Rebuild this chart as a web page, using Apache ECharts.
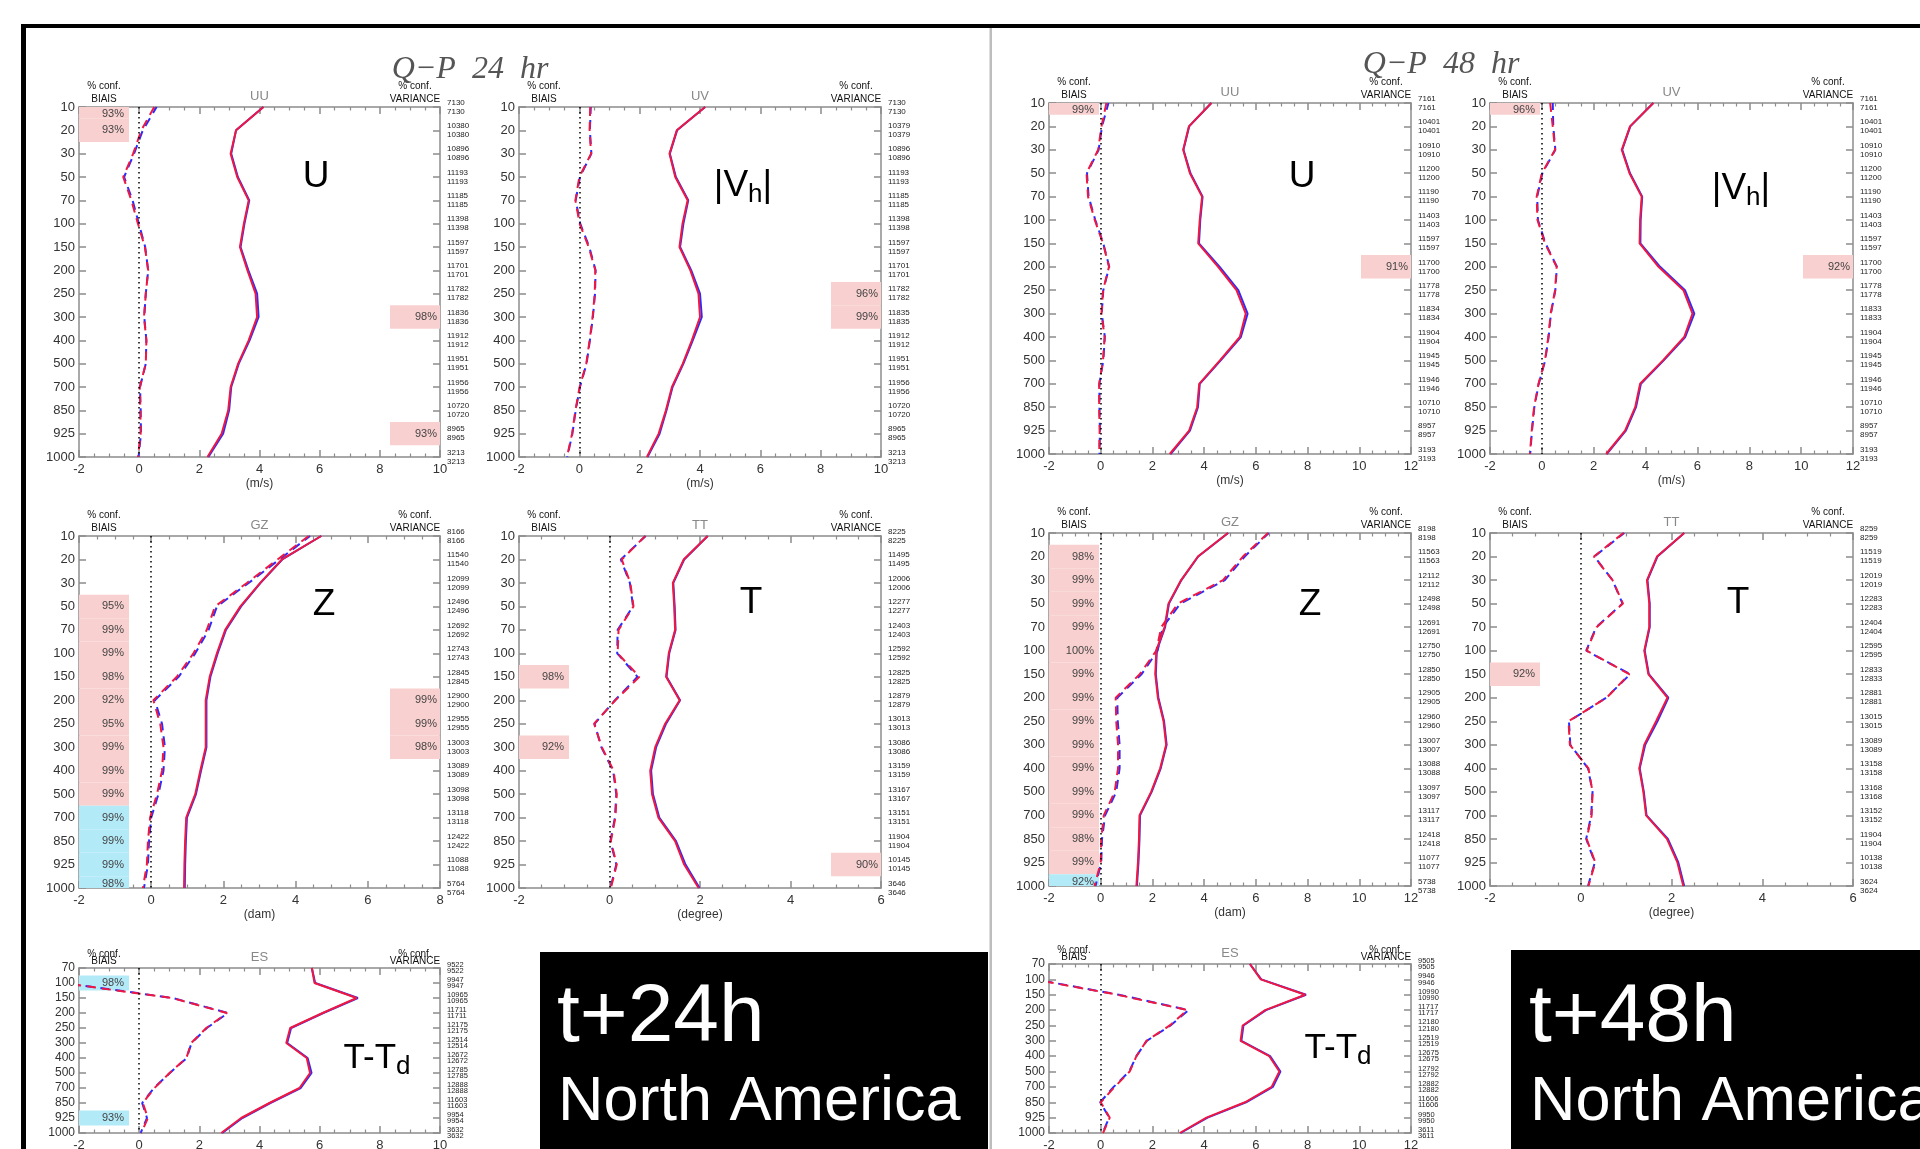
<!DOCTYPE html>
<html><head><meta charset="utf-8">
<script src="https://cdn.jsdelivr.net/npm/echarts@6/dist/echarts.min.js"></script>
<style>html,body{margin:0;padding:0;background:#fff}#c{width:1920px;height:1149px}</style>
</head><body><div id="c"></div>
<script>
// ---------------- DATA ----------------
const levels16 = ['10','20','30','50','70','100','150','200','250','300','400','500','700','850','925','1000'];
const levels12 = ['70','100','150','200','250','300','400','500','700','850','925','1000'];

// t+24h, UU
const u24Std      = [4.13,3.22,3.04,3.26,3.64,3.48,3.35,3.60,3.87,3.92,3.64,3.29,3.04,2.96,2.74,2.27];
const u24StdBlue  = [4.13,3.22,3.06,3.28,3.66,3.50,3.37,3.63,3.92,3.97,3.67,3.31,3.06,2.99,2.79,2.30];
const u24Bias     = [0.50,0.07,-0.20,-0.53,-0.26,-0.04,0.19,0.30,0.22,0.16,0.24,0.22,0.02,0.04,0.05,-0.04];
const u24BiasBlue = [0.58,0.12,-0.17,-0.50,-0.22,-0.01,0.20,0.30,0.22,0.17,0.24,0.22,0.03,0.05,0.06,-0.02];
const u24Counts   = ['7130','10380','10896','11193','11185','11398','11597','11701','11782','11836','11912','11951','11956','10720','8965','3213'];
const u24BiasConf = [['10',93,'p'],['20',93,'p']];
const u24VarConf  = [['300',98,'p'],['925',93,'p']];

// t+24h, UV
const uv24Std      = [4.17,3.23,2.99,3.18,3.59,3.42,3.32,3.68,3.95,4.00,3.73,3.43,3.07,2.87,2.63,2.24];
const uv24StdBlue  = [4.17,3.24,3.00,3.20,3.61,3.45,3.34,3.71,4.00,4.06,3.76,3.45,3.09,2.89,2.66,2.26];
const uv24Bias     = [0.36,0.34,0.39,0.00,-0.13,0.01,0.31,0.53,0.51,0.44,0.34,0.23,0.01,-0.13,-0.24,-0.41];
const uv24BiasBlue = [0.38,0.35,0.40,0.02,-0.12,0.03,0.33,0.54,0.52,0.45,0.35,0.24,0.02,-0.12,-0.23,-0.40];
const uv24Counts   = ['7130','10379','10896','11193','11185','11398','11597','11701','11782','11835','11912','11951','11956','10720','8965','3213'];
const uv24BiasConf = [];
const uv24VarConf  = [['250',96,'p'],['300',99,'p']];

// t+24h, GZ
const gz24Std      = [4.71,3.62,3.02,2.47,2.05,1.82,1.62,1.51,1.51,1.51,1.36,1.22,0.97,0.94,0.92,0.91];
const gz24StdBlue  = [4.71,3.63,3.03,2.49,2.07,1.84,1.64,1.53,1.53,1.53,1.38,1.24,0.99,0.96,0.94,0.93];
const gz24Bias     = [4.36,3.50,2.65,1.77,1.54,1.17,0.71,0.06,0.25,0.34,0.30,0.16,-0.03,-0.09,-0.12,-0.23];
const gz24BiasBlue = [4.40,3.55,2.70,1.82,1.59,1.22,0.76,0.10,0.30,0.38,0.34,0.20,0.00,-0.06,-0.09,-0.20];
const gz24Counts   = ['8166','11540','12099','12496','12692','12743','12845','12900','12955','13003','13089','13098','13118','12422','11088','5764'];
const gz24BiasConf = [['50',95,'p'],['70',99,'p'],['100',99,'p'],['150',98,'p'],['200',92,'p'],['250',95,'p'],['300',99,'p'],['400',99,'p'],['500',99,'p'],['700',99,'b'],['850',99,'b'],['925',99,'b'],['1000',98,'b']];
const gz24VarConf  = [['200',99,'p'],['250',99,'p'],['300',98,'p']];

// t+24h, TT
const tt24Std      = [2.17,1.64,1.40,1.43,1.45,1.31,1.25,1.55,1.23,1.01,0.90,0.94,1.08,1.45,1.65,1.97];
const tt24StdBlue  = [2.17,1.65,1.41,1.44,1.46,1.32,1.26,1.56,1.25,1.03,0.92,0.96,1.10,1.47,1.68,1.99];
const tt24Bias     = [0.79,0.27,0.46,0.53,0.20,0.18,0.66,0.13,-0.34,-0.17,0.09,0.16,0.13,0.03,0.16,0.03];
const tt24BiasBlue = [0.80,0.25,0.45,0.52,0.18,0.17,0.62,0.12,-0.33,-0.18,0.08,0.15,0.12,0.02,0.15,0.02];
const tt24Counts   = ['8225','11495','12006','12277','12403','12592','12825','12879','13013','13086','13159','13167','13151','11904','10145','3646'];
const tt24BiasConf = [['150',98,'p'],['300',92,'p']];
const tt24VarConf  = [['925',90,'p']];

// t+24h, ES
const es24Std      = [5.74,5.83,7.23,6.10,5.02,4.89,5.57,5.68,5.33,4.33,3.39,2.73];
const es24StdBlue  = [5.74,5.85,7.27,6.12,5.05,4.92,5.60,5.73,5.37,4.36,3.43,2.76];
const es24Bias     = [-3.00,-2.55,1.09,2.92,2.23,1.73,1.57,1.01,0.51,0.12,0.29,0.07];
const es24BiasBlue = [-3.00,-2.50,1.12,2.95,2.25,1.74,1.58,1.02,0.49,0.10,0.26,0.05];
const es24Counts   = ['9522','9947','10965','11711','12175','12514','12672','12785','12888','11603','9954','3632'];
const es24BiasConf = [['100',98,'b'],['925',93,'b']];
const es24VarConf  = [];

// t+48h, UU
const u48Std      = [4.28,3.41,3.19,3.45,3.92,3.83,3.77,4.54,5.25,5.61,5.38,4.61,3.81,3.73,3.42,2.67];
const u48StdBlue  = [4.28,3.42,3.20,3.47,3.94,3.85,3.80,4.60,5.32,5.68,5.42,4.64,3.83,3.76,3.45,2.70];
const u48Bias     = [0.22,0.03,-0.10,-0.55,-0.49,-0.23,0.09,0.32,0.09,0.03,0.15,0.09,-0.06,-0.06,-0.04,-0.06];
const u48BiasBlue = [0.30,0.05,-0.08,-0.53,-0.47,-0.21,0.10,0.33,0.10,0.04,0.16,0.10,-0.05,-0.05,-0.03,-0.05];
const u48Counts   = ['7161','10401','10910','11200','11190','11403','11597','11700','11778','11834','11904','11945','11946','10710','8957','3193'];
const u48BiasConf = [['10',99,'p']];
const u48VarConf  = [['200',91,'p']];

// t+48h, UV
const uv48Std      = [4.30,3.40,3.08,3.38,3.85,3.79,3.77,4.50,5.46,5.81,5.49,4.67,3.79,3.60,3.21,2.48];
const uv48StdBlue  = [4.30,3.41,3.10,3.40,3.87,3.81,3.80,4.56,5.52,5.88,5.53,4.70,3.82,3.63,3.24,2.50];
const uv48Bias     = [0.32,0.42,0.51,0.00,-0.20,-0.17,0.12,0.57,0.51,0.34,0.25,0.12,-0.13,-0.30,-0.39,-0.46];
const uv48BiasBlue = [0.42,0.44,0.52,0.02,-0.18,-0.15,0.14,0.58,0.52,0.35,0.26,0.13,-0.12,-0.29,-0.38,-0.45];
const uv48Counts   = ['7161','10401','10910','11200','11190','11403','11597','11700','11778','11833','11904','11945','11946','10710','8957','3193'];
const uv48BiasConf = [['10',96,'p']];
const uv48VarConf  = [['200',92,'p']];

// t+48h, GZ
const gz48Std      = [4.92,3.76,3.11,2.62,2.47,2.15,2.11,2.21,2.43,2.53,2.30,1.95,1.50,1.48,1.44,1.38];
const gz48StdBlue  = [4.93,3.77,3.12,2.64,2.49,2.17,2.13,2.23,2.45,2.55,2.32,1.97,1.52,1.50,1.46,1.40];
const gz48Bias     = [6.47,5.50,4.73,2.99,2.34,2.15,1.51,0.58,0.60,0.67,0.67,0.54,0.12,0.02,0.00,-0.24];
const gz48BiasBlue = [6.50,5.57,4.80,3.08,2.40,2.20,1.58,0.64,0.66,0.73,0.73,0.60,0.17,0.05,0.02,-0.20];
const gz48Counts   = ['8198','11563','12112','12498','12691','12750','12850','12905','12960','13007','13088','13097','13117','12418','11077','5738'];
const gz48BiasConf = [['20',98,'p'],['30',99,'p'],['50',99,'p'],['70',99,'p'],['100',100,'p'],['150',99,'p'],['200',99,'p'],['250',99,'p'],['300',99,'p'],['400',99,'p'],['500',99,'p'],['700',99,'p'],['850',98,'p'],['925',99,'p'],['1000',92,'b']];
const gz48VarConf  = [];

// t+48h, TT
const tt48Std      = [2.28,1.68,1.46,1.51,1.51,1.40,1.49,1.91,1.66,1.40,1.29,1.38,1.44,1.90,2.13,2.26];
const tt48StdBlue  = [2.28,1.69,1.47,1.52,1.52,1.41,1.50,1.93,1.69,1.42,1.30,1.39,1.45,1.92,2.15,2.28];
const tt48Bias     = [0.94,0.29,0.70,0.93,0.35,0.13,1.07,0.57,-0.27,-0.24,0.17,0.26,0.24,0.13,0.32,0.17];
const tt48BiasBlue = [0.96,0.30,0.70,0.92,0.34,0.12,1.09,0.56,-0.26,-0.23,0.16,0.26,0.23,0.12,0.31,0.16];
const tt48Counts   = ['8259','11519','12019','12283','12404','12595','12833','12881','13015','13089','13158','13168','13152','11904','10138','3624'];
const tt48BiasConf = [['150',92,'p']];
const tt48VarConf  = [];

// t+48h, ES
const es48Std      = [5.77,6.19,7.91,6.36,5.49,5.41,6.52,6.91,6.61,5.58,4.09,3.06];
const es48StdBlue  = [5.77,6.21,7.94,6.39,5.52,5.44,6.55,6.95,6.66,5.62,4.13,3.09];
const es48Bias     = [-3.00,-2.60,0.65,3.35,2.67,1.77,1.38,1.12,0.54,0.00,0.35,0.09];
const es48BiasBlue = [-3.00,-2.55,0.70,3.40,2.70,1.78,1.38,1.10,0.50,-0.02,0.33,0.07];
const es48Counts   = ['9505','9946','10990','11717','12180','12519','12675','12792','12882','11606','9950','3611'];
const es48BiasConf = [];
const es48VarConf  = [];

// ---------------- STYLE / LAYOUT ----------------
const FONT = 'Liberation Sans, Arial, Helvetica, sans-serif';
const PINK = '#f9d0d0', CYAN = '#b3eaf8';
const RED = '#ee1840', BLUE = '#2b2bff';
const FRAME = '#8c8c8c';

const panels = [
  {g:[79,107,361,350],  xMax:10, title:'UU', unit:'(m/s)',   lv:levels16, std:u24Std, stdB:u24StdBlue, bias:u24Bias, biasB:u24BiasBlue, counts:u24Counts, bc:u24BiasConf, vc:u24VarConf},
  {g:[519,107,362,350], xMax:10, title:'UV', unit:'(m/s)',   lv:levels16, std:uv24Std, stdB:uv24StdBlue, bias:uv24Bias, biasB:uv24BiasBlue, counts:uv24Counts, bc:uv24BiasConf, vc:uv24VarConf},
  {g:[79,536,361,352],  xMax:8,  title:'GZ', unit:'(dam)',   lv:levels16, std:gz24Std, stdB:gz24StdBlue, bias:gz24Bias, biasB:gz24BiasBlue, counts:gz24Counts, bc:gz24BiasConf, vc:gz24VarConf},
  {g:[519,536,362,352], xMax:6,  title:'TT', unit:'(degree)',lv:levels16, std:tt24Std, stdB:tt24StdBlue, bias:tt24Bias, biasB:tt24BiasBlue, counts:tt24Counts, bc:tt24BiasConf, vc:tt24VarConf},
  {g:[79,968,361,165],  xMax:10, title:'ES', unit:'',        lv:levels12, std:es24Std, stdB:es24StdBlue, bias:es24Bias, biasB:es24BiasBlue, counts:es24Counts, bc:es24BiasConf, vc:es24VarConf},
  {g:[1049,103,362,351],xMax:12, title:'UU', unit:'(m/s)',   lv:levels16, std:u48Std, stdB:u48StdBlue, bias:u48Bias, biasB:u48BiasBlue, counts:u48Counts, bc:u48BiasConf, vc:u48VarConf},
  {g:[1490,103,363,351],xMax:12, title:'UV', unit:'(m/s)',   lv:levels16, std:uv48Std, stdB:uv48StdBlue, bias:uv48Bias, biasB:uv48BiasBlue, counts:uv48Counts, bc:uv48BiasConf, vc:uv48VarConf},
  {g:[1049,533,362,353],xMax:12, title:'GZ', unit:'(dam)',   lv:levels16, std:gz48Std, stdB:gz48StdBlue, bias:gz48Bias, biasB:gz48BiasBlue, counts:gz48Counts, bc:gz48BiasConf, vc:gz48VarConf},
  {g:[1490,533,363,353],xMax:6,  title:'TT', unit:'(degree)',lv:levels16, std:tt48Std, stdB:tt48StdBlue, bias:tt48Bias, biasB:tt48BiasBlue, counts:tt48Counts, bc:tt48BiasConf, vc:tt48VarConf},
  {g:[1049,964,362,169],xMax:12, title:'ES', unit:'',        lv:levels12, std:es48Std, stdB:es48StdBlue, bias:es48Bias, biasB:es48BiasBlue, counts:es48Counts, bc:es48BiasConf, vc:es48VarConf}
];

const BOX_W = 50;
function confRender(params, api) {
  const cs = params.coordSys;
  const idx = api.value(1), pct = api.value(2), side = api.value(3), kind = api.value(4);
  const yc = api.coord([0, idx])[1];
  const h = Math.abs(api.coord([0, 1])[1] - api.coord([0, 0])[1]);
  const y0 = Math.max(cs.y, yc - h / 2), y1 = Math.min(cs.y + cs.height, yc + h / 2);
  const x0 = side === 0 ? cs.x : cs.x + cs.width - BOX_W;
  const ty = Math.min(Math.max(yc, y0 + 7), y1 - 4);
  return {type: 'group', children: [
    {type: 'rect', shape: {x: x0, y: y0, width: BOX_W, height: y1 - y0}, style: {fill: kind === 0 ? PINK : CYAN}},
    {type: 'text', style: {text: pct + '%', x: x0 + BOX_W - (side === 0 ? 5 : 3), y: ty, align: 'right', verticalAlign: 'middle', fill: '#444', font: '11px ' + FONT}}
  ]};
}

const grids = [], xAxes = [], yAxes = [], series = [], graphics = [];
panels.forEach((p, k) => {
  const [L, T, W, H] = p.g;
  const isES = p.lv.length === 12;
  grids.push({left: L, top: T, width: W, height: H, containLabel: false, outerBoundsMode: 'none'});
  const ls = {color: FRAME, width: 1.5};
  const xCommon = {type: 'value', gridIndex: k, min: -2, max: p.xMax, interval: 2,
    axisLine: {show: true, onZero: false, lineStyle: ls},
    axisTick: {show: true, inside: true, length: 7, lineStyle: ls},
    minorTick: {show: true, splitNumber: 4, length: 3.5, lineStyle: {color: FRAME, width: 1.2}},
    splitLine: {show: false}, minorSplitLine: {show: false}};
  xAxes.push(Object.assign({}, xCommon, {position: 'bottom',
    axisLabel: {color: '#333', fontSize: 13, fontFamily: FONT, margin: 6},
    name: p.unit, nameLocation: 'middle', nameGap: 21, nameTextStyle: {color: '#333', fontSize: 12, fontFamily: FONT}}));
  xAxes.push(Object.assign({}, xCommon, {position: 'top', axisLabel: {show: false},
    name: p.title, nameLocation: 'middle', nameGap: 4, nameTextStyle: {color: '#888', fontSize: 13, fontFamily: FONT}}));
  const yCommon = {type: 'category', gridIndex: k, data: p.lv, inverse: true, boundaryGap: false,
    axisLine: {show: true, onZero: false, lineStyle: ls},
    axisTick: {show: true, inside: true, length: 7, interval: 0, lineStyle: ls},
    splitLine: {show: false}};
  yAxes.push(Object.assign({}, yCommon, {position: 'left',
    axisLabel: {interval: 0, color: '#333', fontSize: isES ? 12 : 13, fontFamily: FONT, margin: 4}}));
  yAxes.push(Object.assign({}, yCommon, {position: 'right',
    axisLabel: {interval: 0, color: '#222', fontFamily: FONT, fontSize: isES ? 7.5 : 8, lineHeight: isES ? 6.2 : 9,
      padding: [0, 0, isES ? 6.6 : 5, 0], margin: 7,
      formatter: (v, i) => p.counts[i] + '\n' + p.counts[i]}}));

  const confData = [];
  p.bc.forEach(c => confData.push([0, p.lv.indexOf(c[0]), c[1], 0, c[2] === 'p' ? 0 : 1]));
  p.vc.forEach(c => confData.push([0, p.lv.indexOf(c[0]), c[1], 1, c[2] === 'p' ? 0 : 1]));
  series.push({type: 'custom', xAxisIndex: 2 * k, yAxisIndex: 2 * k, renderItem: confRender,
    data: confData, encode: {x: 0, y: 1}, silent: true, z: 1, animation: false});

  const mk = (vals, color, dashed, offset, extra) => Object.assign({type: 'line', xAxisIndex: 2 * k, yAxisIndex: 2 * k,
    data: vals.map((v, i) => [v, i]), symbol: 'none', showSymbol: false, silent: true, clip: true, animation: false,
    lineStyle: {color: color, width: 2, type: dashed ? [9, 6] : 'solid', dashOffset: offset || 0}, itemStyle: {color: color}, z: 3}, extra || {});
  series.push(mk(p.biasB, BLUE, true, 2, {markLine: {silent: true, symbol: ['none', 'none'], label: {show: false},
    lineStyle: {color: '#000', type: [1.5, 3.5], width: 1.5}, animation: false, data: [{xAxis: 0}]}}));
  series.push(mk(p.bias, RED, true, 0));
  series.push(mk(p.stdB, BLUE, false));
  series.push(mk(p.std, RED, false));

  const o1 = isES ? -14 : -21, o2 = isES ? -7 : -8;
  const tst = (t, x, y) => ({type: 'text', x: x, y: y, silent: true,
    style: {text: t, align: 'center', verticalAlign: 'middle', fill: '#111', font: '10px ' + FONT}});
  graphics.push(tst('% conf.', L + 25, T + o1), tst('BIAIS', L + 25, T + o2),
                tst('% conf.', L + W - 25, T + o1), tst('VARIANCE', L + W - 25, T + o2));
});

// big labels
const big = (txt, x, y) => ({type: 'text', x: x, y: y, silent: true, z: 10,
  style: {text: txt, align: 'center', verticalAlign: 'middle', fill: '#000', font: '37px ' + FONT}});
const bigRich = (txt, x, y, fs) => ({type: 'text', x: x, y: y, silent: true, z: 10,
  style: {text: txt, align: 'center', verticalAlign: 'middle', fill: '#000', font: fs + 'px ' + FONT,
    rich: {n: {fontSize: fs, fontFamily: FONT, lineHeight: 44, verticalAlign: 'middle', fill: '#000'},
           s: {fontSize: 26, fontFamily: FONT, lineHeight: 14, verticalAlign: 'bottom', fill: '#000'}}}});
graphics.push(
  big('U', 316, 177), bigRich('{n||V}{s|h}{n||}', 743, 186, 37), big('Z', 324, 605), big('T', 751, 603),
  bigRich('{n|T-T}{s|d}', 377, 1058, 35),
  big('U', 1302, 177), bigRich('{n||V}{s|h}{n||}', 1741, 189, 37), big('Z', 1310, 605), big('T', 1738, 603),
  bigRich('{n|T-T}{s|d}', 1338, 1048, 35)
);

// frame, divider, titles, black boxes
graphics.push(
  {type: 'rect', silent: true, z: 20, shape: {x: 21, y: 24, width: 1899, height: 4}, style: {fill: '#000'}},
  {type: 'rect', silent: true, z: 20, shape: {x: 21, y: 24, width: 5, height: 1125}, style: {fill: '#000'}},
  {type: 'rect', silent: true, z: 20, shape: {x: 989.5, y: 28, width: 2.5, height: 1121}, style: {fill: '#bdbdbd'}},
  {type: 'text', silent: true, z: 5, x: 470, y: 70, style: {text: 'Q\u2212P  24  hr', align: 'center', verticalAlign: 'middle', fill: '#555', font: 'italic 32px Liberation Serif, serif'}},
  {type: 'text', silent: true, z: 5, x: 1441, y: 65, style: {text: 'Q\u2212P  48  hr', align: 'center', verticalAlign: 'middle', fill: '#555', font: 'italic 32px Liberation Serif, serif'}},
  {type: 'rect', silent: true, z: 20, shape: {x: 540, y: 952, width: 448, height: 197}, style: {fill: '#000'}},
  {type: 'rect', silent: true, z: 20, shape: {x: 1511, y: 950, width: 409, height: 199}, style: {fill: '#000'}},
  {type: 'text', silent: true, z: 21, x: 557, y: 1018, style: {text: 't+24h', align: 'left', verticalAlign: 'middle', fill: '#fff', font: '82px ' + FONT}},
  {type: 'text', silent: true, z: 21, x: 558, y: 1103, style: {text: 'North America', align: 'left', verticalAlign: 'middle', fill: '#fff', font: '63px ' + FONT}},
  {type: 'text', silent: true, z: 21, x: 1529, y: 1018, style: {text: 't+48h', align: 'left', verticalAlign: 'middle', fill: '#fff', font: '82px ' + FONT}},
  {type: 'text', silent: true, z: 21, x: 1530, y: 1103, style: {text: 'North America', align: 'left', verticalAlign: 'middle', fill: '#fff', font: '63px ' + FONT}}
);

const chart = echarts.init(document.getElementById('c'), null, {renderer: 'canvas', width: 1920, height: 1149});
chart.setOption({
  backgroundColor: '#fff',
  animation: false,
  textStyle: {fontFamily: FONT},
  grid: grids, xAxis: xAxes, yAxis: yAxes, series: series,
  graphic: {elements: graphics}
});
</script></body></html>
